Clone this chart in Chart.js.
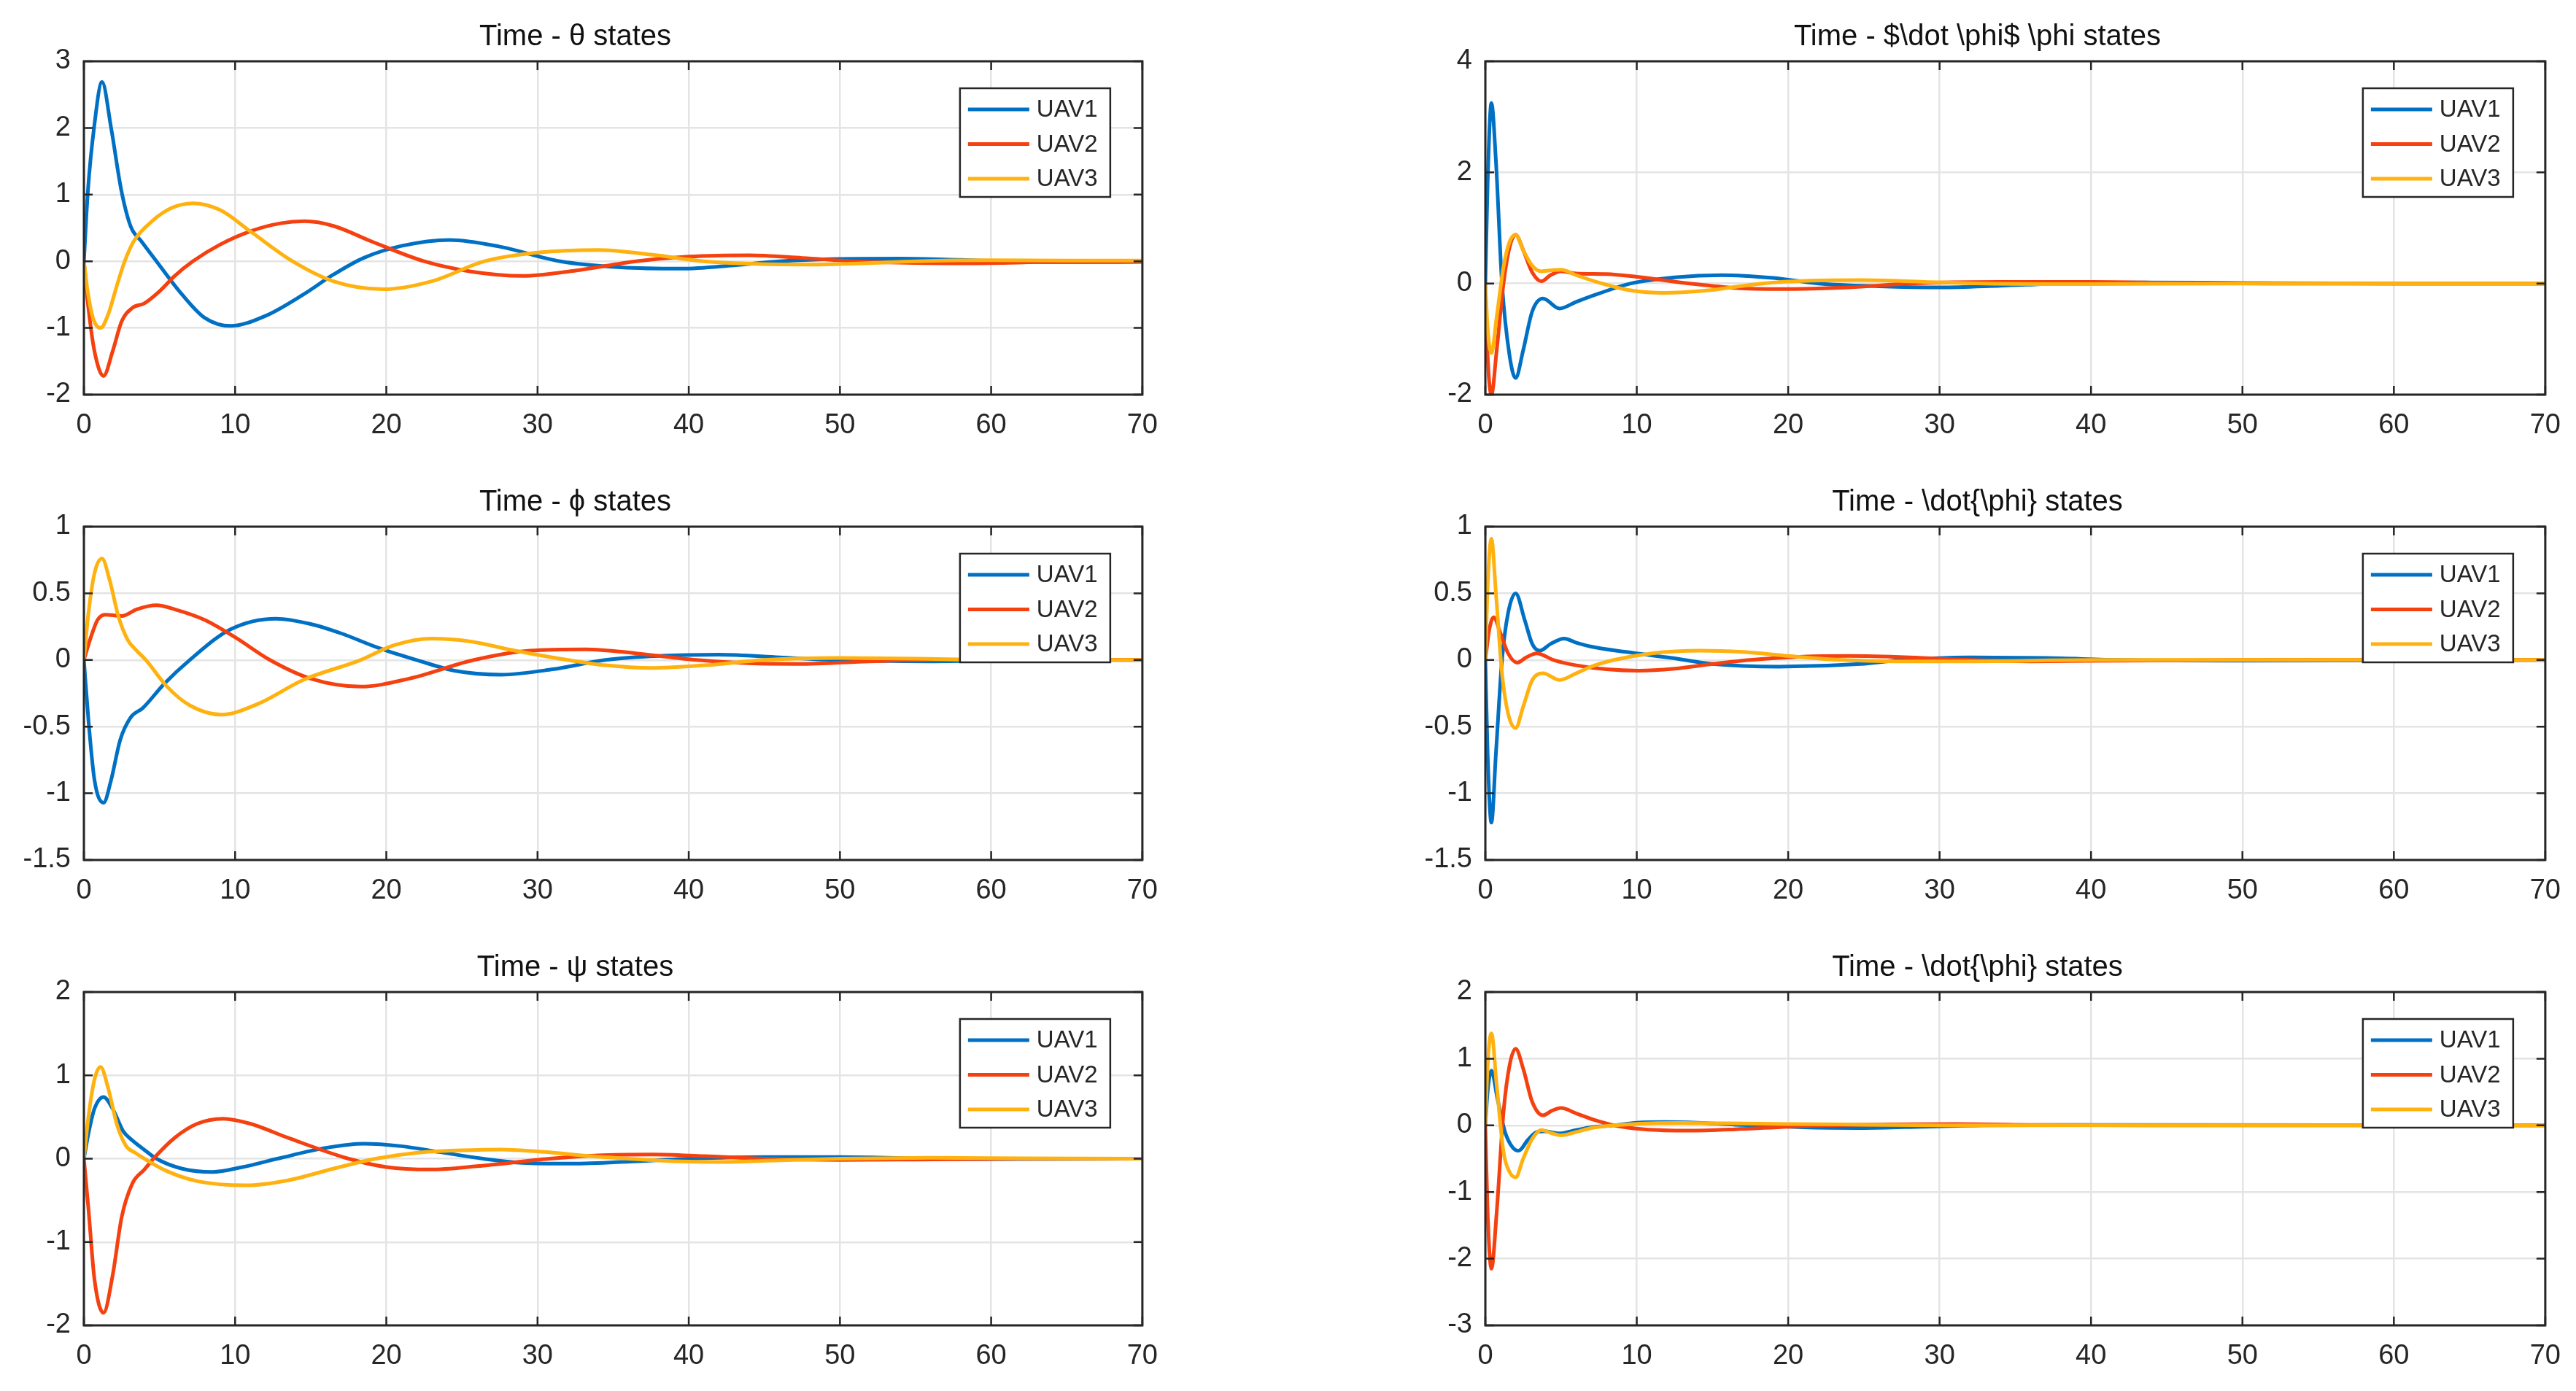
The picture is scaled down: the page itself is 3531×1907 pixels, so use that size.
<!DOCTYPE html>
<html>
<head>
<meta charset="utf-8">
<script src="https://cdn.jsdelivr.net/npm/chart.js@4.4.0/dist/chart.umd.min.js"></script>
<style>
  body { margin: 0; background: #fff; width: 3531px; height: 1907px; position: relative; overflow: hidden; }
  canvas { position: absolute; }
</style>
</head>
<body>
<script>
// ---- data: [time, value] ----
const seriesNames = ["UAV1", "UAV2", "UAV3"];
const seriesColors = ["#0070c4", "#f5400f", "#ffb20f"];

const titles = [
    "Time - \u03b8 states",
    "Time - $\\dot \\phi$ \\phi states",
    "Time - \u03d5 states",
    "Time - \\dot{\\phi} states",
    "Time - \u03c8 states",
    "Time - \\dot{\\phi} states"
];
const yRanges = [[-2, 3, 1], [-2, 4, 2], [-1.5, 1, 0.5], [-1.5, 1, 0.5], [-2, 2, 1], [-3, 2, 1]];
const xTicks = [0, 70, 10];

// theta
const theta1 = [[0,0],[0.27,1.07],[0.67,2],[1.2,2.69],[1.8,2],[2.47,1.07],[3.1,0.52],[3.8,0.3],[4.8,0],[6.5,-0.5],[8,-0.85],[9.7,-0.97],[12,-0.82],[14.5,-0.5],[16.5,-0.2],[18.5,0.05],[21,0.23],[24.2,0.32],[27.5,0.22],[31.5,0],[35.5,-0.09],[39.5,-0.11],[43,-0.06],[46,0],[50,0.035],[54,0.04],[58,0.02],[61,0],[65,-0.012],[70,-0.01]];
const theta2 = [[0,0],[0.3,-0.7],[0.7,-1.35],[1.3,-1.72],[1.9,-1.35],[2.5,-0.9],[3.2,-0.7],[4,-0.63],[5,-0.45],[6,-0.22],[7.2,0],[9,0.25],[11,0.45],[13,0.57],[14.6,0.6],[16.5,0.53],[19,0.3],[22.5,0],[25.5,-0.15],[29,-0.22],[32.5,-0.14],[36.5,0],[40,0.07],[44,0.09],[47.5,0.05],[51,0],[55,-0.025],[58.5,-0.03],[64,-0.01],[70,0]];
const theta3 = [[0,0],[0.25,-0.45],[0.6,-0.85],[1.1,-1.0],[1.6,-0.8],[2.2,-0.35],[2.7,0],[3.3,0.3],[4.5,0.6],[5.8,0.8],[7.2,0.87],[9,0.77],[11,0.45],[13.8,0],[16.5,-0.3],[19.8,-0.42],[23,-0.3],[26.5,0],[30,0.13],[34,0.17],[37.5,0.1],[41,0],[44.5,-0.04],[48,-0.05],[51.5,-0.03],[55,0],[60,0.015],[65,0.01],[70,0.01]];

// phi dot (top right)
const phiDotA1 = [[0,0],[0.15,1.8],[0.4,3.25],[0.7,2.2],[1.1,0],[1.6,-1.3],[2.0,-1.7],[2.5,-1.2],[3.1,-0.5],[3.8,-0.27],[4.9,-0.45],[6,-0.33],[7.5,-0.18],[9.6,0],[12.5,0.11],[15.6,0.15],[19,0.1],[22,0],[26,-0.05],[30,-0.07],[34,-0.04],[38,0],[43,0.02],[50,0.01],[60,0],[70,0]];
const phiDotA2 = [[0,0],[0.15,-1.3],[0.4,-2.0],[0.75,-1.2],[1.2,0],[1.6,0.65],[2.0,0.88],[2.5,0.6],[3.1,0.2],[3.7,0.04],[4.3,0.15],[5,0.22],[6,0.18],[8,0.17],[10,0.12],[13.5,0],[16.5,-0.08],[19.4,-0.1],[24,-0.07],[28,0],[34,0.03],[40,0.03],[46,0.01],[52,0],[70,0]];
const phiDotA3 = [[0,0],[0.15,-0.8],[0.4,-1.25],[0.75,-0.6],[1.2,0.3],[1.6,0.75],[2.0,0.88],[2.5,0.6],[3.1,0.32],[3.7,0.22],[4.4,0.24],[5,0.25],[6,0.15],[7.7,0],[9.5,-0.12],[11.8,-0.17],[14.5,-0.13],[18.3,0],[21.5,0.05],[24.8,0.06],[29,0.03],[33,0],[40,-0.01],[50,0],[70,0]];

// phi
const phi1 = [[0,0],[0.3,-0.45],[0.7,-0.9],[1.3,-1.07],[1.8,-0.9],[2.4,-0.6],[3.1,-0.43],[3.9,-0.36],[5.3,-0.18],[7,0],[9.7,0.23],[12.7,0.31],[15,0.27],[17,0.2],[19.5,0.09],[22,0],[24.5,-0.08],[27.6,-0.11],[31,-0.07],[34.5,0],[38,0.03],[42,0.04],[46,0.02],[49.5,0],[56,-0.01],[62,0],[70,0]];
const phi2 = [[0,0],[0.4,0.15],[0.9,0.3],[1.4,0.34],[2.5,0.33],[3.5,0.38],[4.8,0.41],[6,0.38],[8,0.3],[10,0.17],[12.3,0],[15,-0.14],[18.3,-0.2],[21.5,-0.14],[25.8,0],[29.5,0.07],[33.2,0.08],[36.5,0.05],[40.5,0],[44,-0.025],[47,-0.03],[51,-0.015],[55,0],[62,0.005],[70,0]];
const phi3 = [[0,0],[0.3,0.35],[0.7,0.65],[1.2,0.76],[1.7,0.6],[2.3,0.32],[2.9,0.15],[3.4,0.08],[4.1,0],[5.5,-0.2],[7,-0.34],[9.1,-0.41],[11.5,-0.33],[14.5,-0.15],[18.3,0],[20.5,0.11],[23,0.16],[25.5,0.14],[28.5,0.07],[32,0],[34.5,-0.04],[37.5,-0.06],[41,-0.04],[45,0],[50,0.015],[55,0.01],[60,0],[70,0]];

// phi dot (middle right)
const phiDotB1 = [[0,0],[0.15,-0.7],[0.4,-1.22],[0.7,-0.7],[1.1,0],[1.5,0.35],[2.0,0.5],[2.6,0.3],[3.1,0.12],[3.6,0.07],[4.3,0.12],[5.2,0.16],[6,0.13],[7,0.1],[9.3,0.06],[12.3,0.015],[15,-0.03],[19.4,-0.05],[24.8,-0.03],[27.5,0],[32,0.02],[37,0.015],[42,0],[50,-0.005],[70,0]];
const phiDotB2 = [[0,0],[0.25,0.22],[0.55,0.32],[1.0,0.2],[1.5,0.05],[2.1,-0.02],[2.7,0.02],[3.4,0.05],[4.5,0],[6,-0.04],[8,-0.07],[10.1,-0.08],[12.5,-0.065],[15,-0.03],[17.5,0],[21,0.025],[24,0.03],[28,0.02],[32,0],[36,-0.01],[42,-0.005],[50,0],[70,0]];
const phiDotB3 = [[0,0],[0.15,0.55],[0.4,0.91],[0.7,0.5],[1.1,-0.1],[1.5,-0.4],[2.0,-0.51],[2.5,-0.35],[3.1,-0.15],[3.8,-0.1],[4.9,-0.15],[6,-0.1],[7,-0.05],[8.5,0],[11,0.05],[14.2,0.07],[17,0.06],[20,0.03],[23.5,0],[27,-0.01],[32,-0.01],[40,0],[70,0]];

// psi
const psi1 = [[0,0],[0.3,0.3],[0.7,0.6],[1.3,0.74],[1.9,0.6],[2.6,0.33],[3.2,0.22],[3.9,0.12],[4.8,0],[6.5,-0.12],[8.5,-0.16],[10.5,-0.1],[12.8,0],[16,0.13],[18.5,0.18],[21,0.15],[23.5,0.08],[26.4,0],[29,-0.05],[32,-0.06],[35.5,-0.04],[40,0],[45,0.02],[50,0.02],[55,0.005],[60,-0.005],[70,0]];
const psi2 = [[0,0],[0.3,-0.6],[0.7,-1.45],[1.3,-1.85],[1.9,-1.4],[2.5,-0.7],[3.2,-0.3],[4,-0.13],[4.6,0],[6,0.25],[7.5,0.42],[9.2,0.48],[11,0.42],[13.5,0.25],[17.5,0],[20,-0.1],[22.9,-0.13],[26,-0.09],[30.8,0],[34,0.04],[37.6,0.05],[41,0.03],[45,0],[50,-0.015],[55,-0.01],[62,0],[70,0]];
const psi3 = [[0,0],[0.3,0.5],[0.7,0.95],[1.1,1.1],[1.6,0.85],[2.2,0.4],[2.8,0.15],[3.4,0.07],[4,0],[5.5,-0.15],[7.5,-0.27],[10.7,-0.32],[13.5,-0.26],[16.5,-0.12],[19.3,0],[22,0.07],[25,0.1],[27.6,0.11],[30.5,0.08],[33.5,0.03],[36,0],[39,-0.03],[42,-0.04],[46,-0.02],[50,0],[56,0.01],[62,0.005],[70,0]];

// phi dot (bottom right)
const phiDotC1 = [[0,0],[0.15,0.5],[0.4,0.82],[0.8,0.4],[1.3,-0.1],[1.8,-0.33],[2.2,-0.38],[2.8,-0.22],[3.4,-0.1],[3.9,-0.09],[4.9,-0.12],[6,-0.07],[7,-0.03],[8.5,0],[10,0.04],[11.8,0.05],[14,0.04],[16.5,0.01],[18,0],[21,-0.03],[25,-0.04],[29,-0.02],[33,0],[40,0.005],[70,0]];
const phiDotC2 = [[0,0],[0.15,-1.3],[0.4,-2.15],[0.75,-1.3],[1.2,0.2],[1.6,0.9],[2.0,1.15],[2.5,0.85],[3.1,0.35],[3.8,0.15],[4.4,0.22],[5,0.26],[6,0.18],[7.2,0.08],[8.5,0],[10.5,-0.06],[13.4,-0.08],[16.5,-0.06],[20,-0.02],[22.5,0],[27,0.015],[31,0.02],[37,0.005],[45,0],[70,0]];
const phiDotC3 = [[0,0],[0.15,0.9],[0.4,1.38],[0.75,0.6],[1.2,-0.4],[1.6,-0.7],[2.0,-0.78],[2.5,-0.5],[3.1,-0.2],[3.7,-0.07],[4.4,-0.12],[5,-0.15],[6,-0.1],[7,-0.04],[8.5,0],[11,0.03],[13,0.035],[16,0.03],[20,0.02],[25,0.01],[30,0],[70,0]];

const panelSeries = [
    [theta1, theta2, theta3],
    [phiDotA1, phiDotA2, phiDotA3],
    [phi1, phi2, phi3],
    [phiDotB1, phiDotB2, phiDotB3],
    [psi1, psi2, psi3],
    [phiDotC1, phiDotC2, phiDotC3]
];

// ---- layout ----
const colLeft = [115, 2036];
const colWidth = [1462, 1464];
const rowTop = [84, 722, 1360];
const areaHeight = 457;
const yAxisW = 115, titleH = 80, xAxisH = 75, padRight = 30;
const FONT = "'Liberation Sans', Arial, sans-serif";
const INK = "#262626";

// MATLAB style box, inner ticks and boxed legend
const matlabFrame = {
    id: "matlabFrame",
    afterDatasetsDraw(chart) {
        const ctx = chart.ctx;
        const a = chart.chartArea;
        const xs = chart.scales.x, ys = chart.scales.y;
        ctx.save();
        ctx.strokeStyle = INK;
        ctx.lineWidth = 2.5;
        ctx.beginPath();
        xs.ticks.forEach(t => {
            const px = xs.getPixelForValue(t.value);
            ctx.moveTo(px, a.bottom); ctx.lineTo(px, a.bottom - 12);
            ctx.moveTo(px, a.top); ctx.lineTo(px, a.top + 12);
        });
        ys.ticks.forEach(t => {
            const py = ys.getPixelForValue(t.value);
            ctx.moveTo(a.left, py); ctx.lineTo(a.left + 12, py);
            ctx.moveTo(a.right, py); ctx.lineTo(a.right - 12, py);
        });
        ctx.stroke();
        ctx.lineWidth = 3;
        ctx.strokeRect(a.left, a.top, a.right - a.left, a.bottom - a.top);

        // legend
        const w = 206, h = 149;
        const lx = a.right - 44 - w, ly = a.top + 37;
        ctx.fillStyle = "#fff";
        ctx.fillRect(lx, ly, w, h);
        ctx.lineWidth = 2.5;
        ctx.strokeRect(lx, ly, w, h);
        ctx.font = "33px " + FONT;
        ctx.textBaseline = "middle";
        chart.data.datasets.forEach((ds, i) => {
            const y = ly + 29 + i * 47.5;
            ctx.strokeStyle = ds.borderColor;
            ctx.lineWidth = 5;
            ctx.beginPath();
            ctx.moveTo(lx + 11, y); ctx.lineTo(lx + 95, y);
            ctx.stroke();
            ctx.fillStyle = INK;
            ctx.fillText(ds.label, lx + 105, y + 1);
        });
        ctx.restore();
    }
};

panelSeries.forEach((series, p) => {
    const col = p % 2, row = Math.floor(p / 2);
    const canvas = document.createElement("canvas");
    const cw = colWidth[col] + yAxisW + padRight;
    const ch = areaHeight + titleH + xAxisH;
    canvas.width = cw; canvas.height = ch;
    canvas.style.left = (colLeft[col] - yAxisW) + "px";
    canvas.style.top = (rowTop[row] - titleH) + "px";
    canvas.style.width = cw + "px"; canvas.style.height = ch + "px";
    document.body.appendChild(canvas);

    const yr = yRanges[p];
    new Chart(canvas, {
        type: "line",
        data: {
            datasets: series.map((pts, i) => ({
                label: seriesNames[i],
                data: pts.map(d => ({ x: d[0], y: d[1] })),
                borderColor: seriesColors[i],
                borderWidth: 5,
                pointRadius: 0,
                cubicInterpolationMode: "monotone",
                order: 3 - i
            }))
        },
        options: {
            responsive: false,
            animation: false,
            devicePixelRatio: 1,
            layout: { padding: { left: 0, right: padRight, top: 0, bottom: 0 } },
            plugins: {
                legend: { display: false },
                tooltip: { enabled: false },
                title: {
                    display: true,
                    text: titles[p],
                    color: "#111",
                    font: { family: FONT, size: 40, weight: "normal", lineHeight: 1.2 },
                    padding: { top: 23, bottom: 9 }
                }
            },
            scales: {
                x: {
                    type: "linear",
                    min: xTicks[0], max: xTicks[1],
                    afterFit(s) { s.height = xAxisH; },
                    ticks: { stepSize: xTicks[2], color: INK, padding: 20, font: { family: FONT, size: 38 } },
                    grid: { color: "#e4e4e4", lineWidth: 2.5, drawTicks: false },
                    border: { display: false }
                },
                y: {
                    min: yr[0], max: yr[1],
                    afterFit(s) { s.width = yAxisW; },
                    ticks: {
                        stepSize: yr[2], color: INK, padding: 18, font: { family: FONT, size: 38 },
                        callback: v => String(+v.toFixed(2))
                    },
                    grid: { color: "#e4e4e4", lineWidth: 2.5, drawTicks: false },
                    border: { display: false }
                }
            }
        },
        plugins: [matlabFrame]
    });
});
</script>
</body>
</html>
